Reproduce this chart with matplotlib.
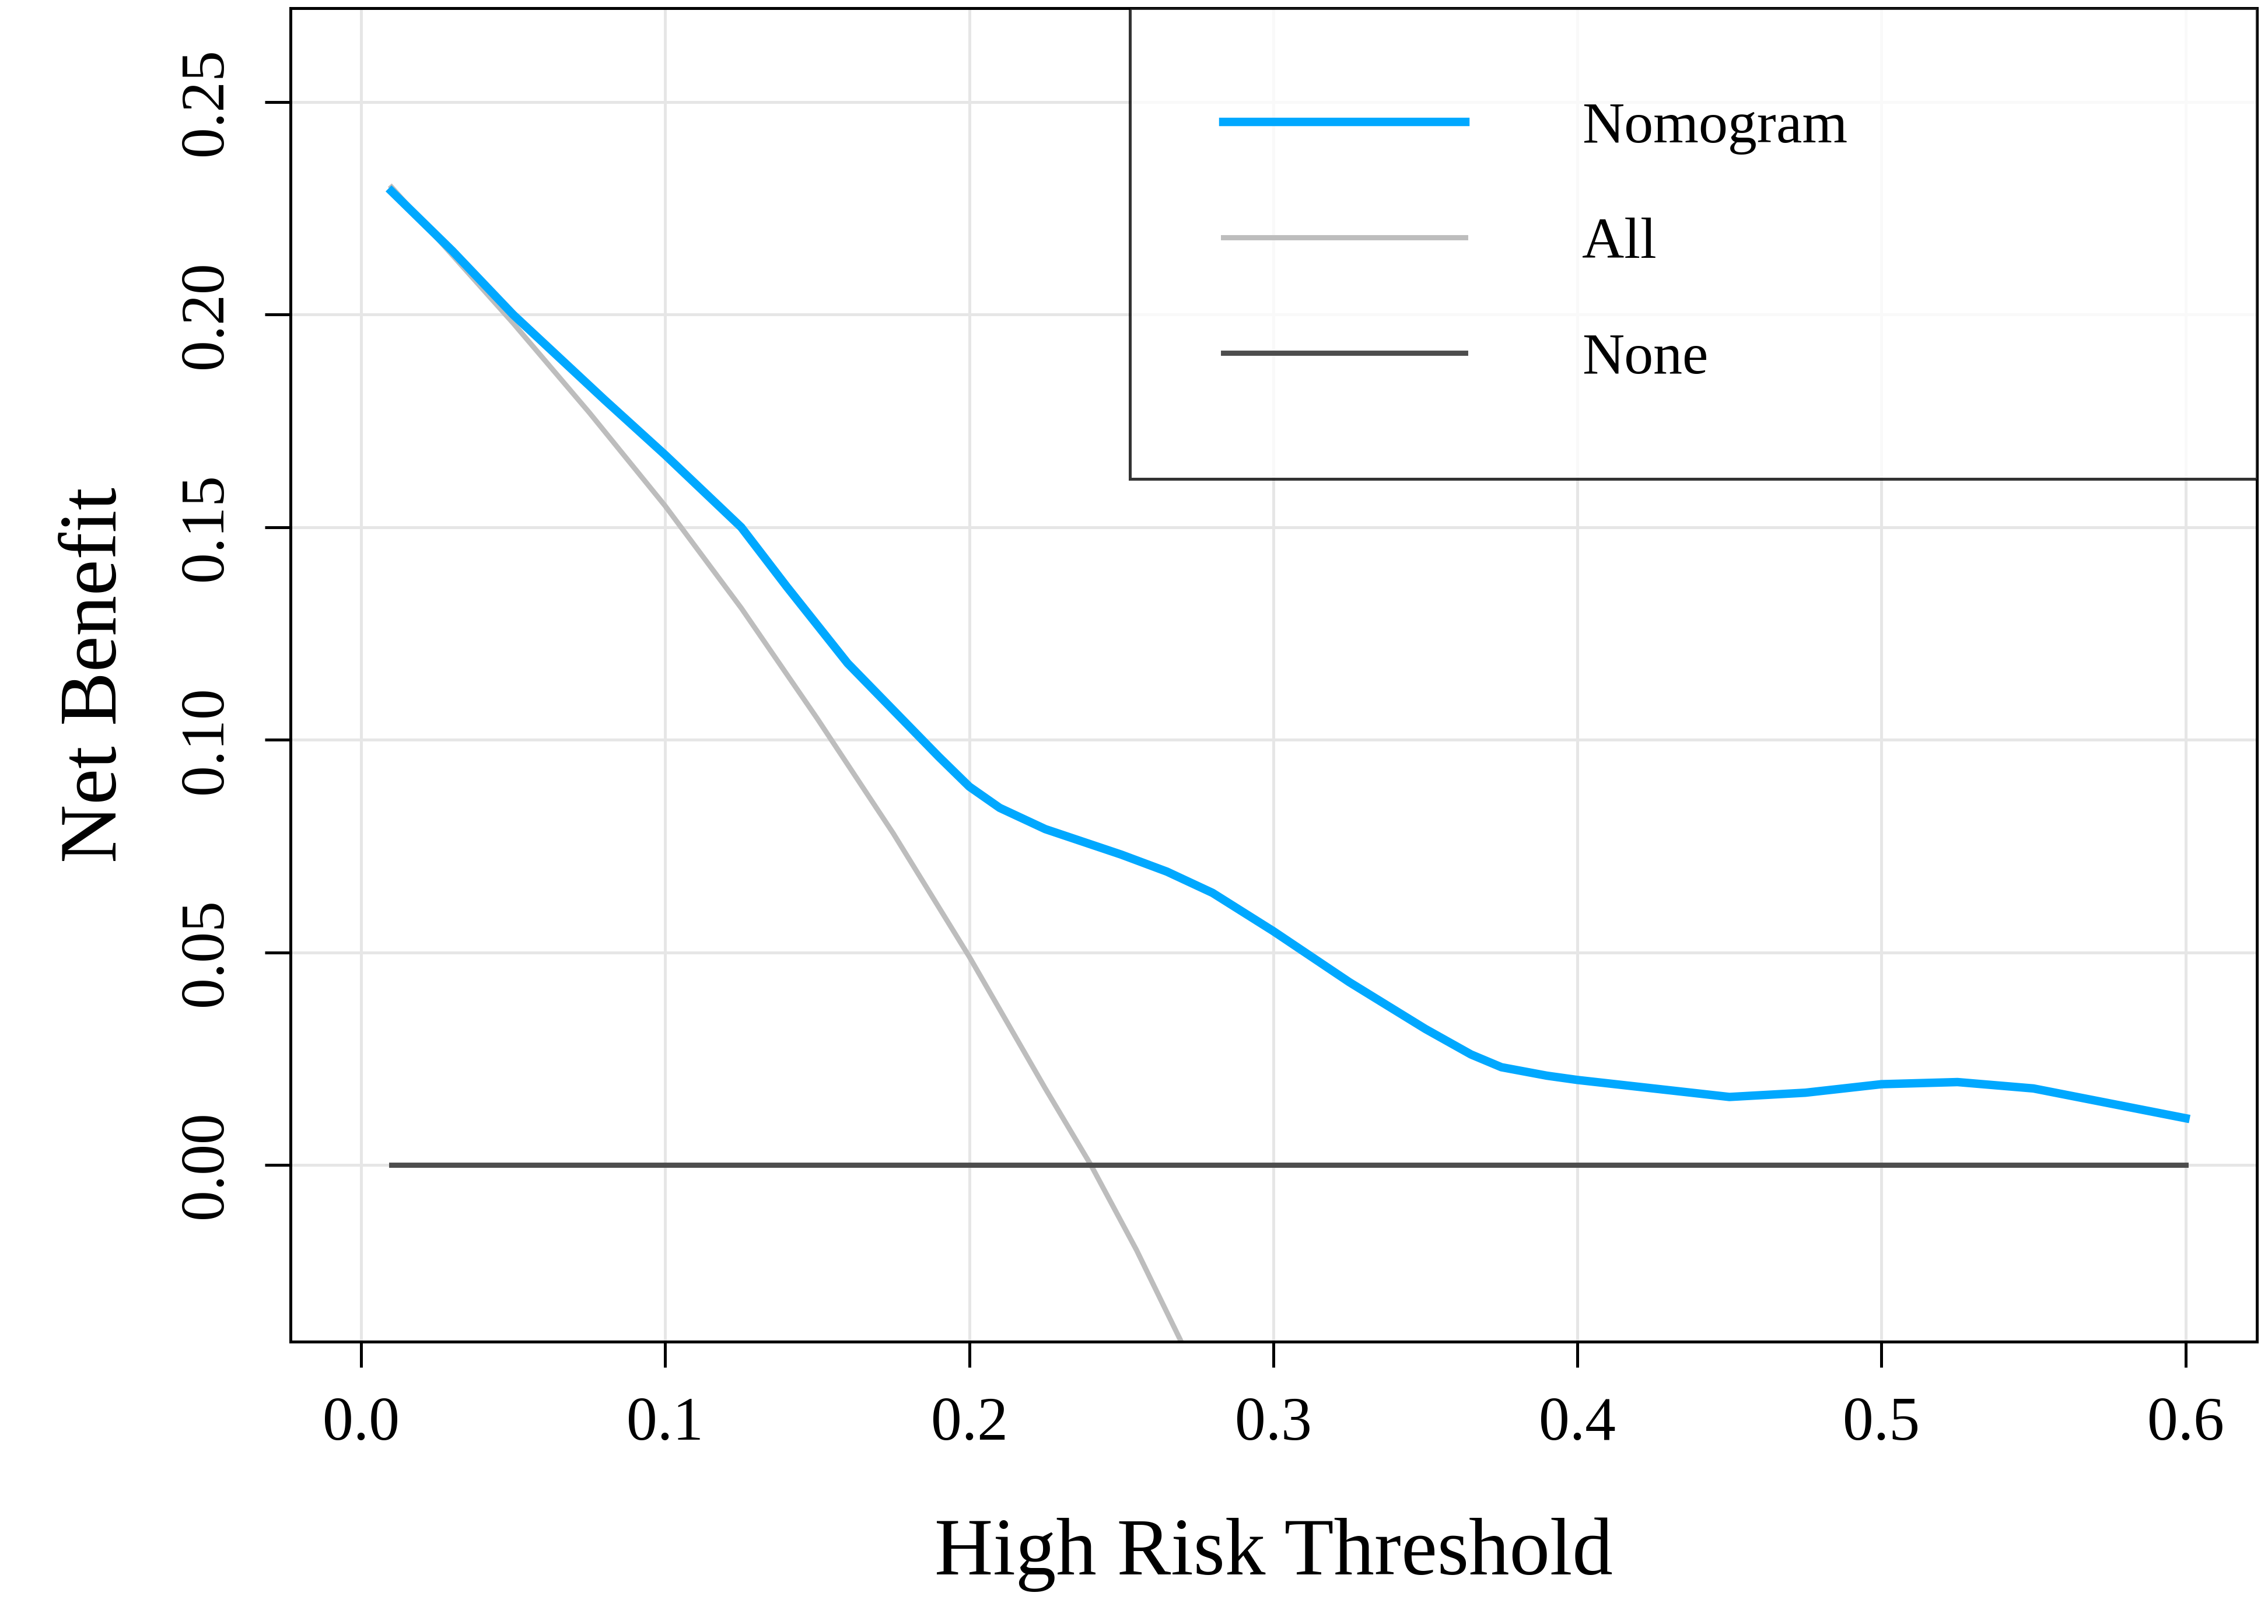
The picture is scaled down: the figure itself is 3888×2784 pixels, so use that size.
import matplotlib.pyplot as plt

plt.rcParams["font.family"] = ["Liberation Serif", "DejaVu Serif"]

thresh_nomo = [0.01, 0.03, 0.05, 0.065, 0.08, 0.10, 0.125, 0.14, 0.15, 0.16, 0.175, 0.19, 0.20,
               0.21, 0.225, 0.25, 0.265, 0.28, 0.30, 0.325, 0.35, 0.365, 0.375, 0.39, 0.40,
               0.425, 0.45, 0.475, 0.50, 0.525, 0.55, 0.575, 0.60]
nb_nomo = [0.229, 0.215, 0.200, 0.190, 0.180, 0.167, 0.150, 0.136, 0.127, 0.118, 0.107, 0.096,
           0.089, 0.084, 0.079, 0.073, 0.069, 0.064, 0.055, 0.043, 0.032, 0.026, 0.023, 0.021,
           0.020, 0.018, 0.016, 0.017, 0.019, 0.0195, 0.018, 0.0145, 0.011]
thresh_all = [0.01, 0.05, 0.075, 0.10, 0.125, 0.15, 0.175, 0.20, 0.225, 0.24, 0.255, 0.27]
nb_all = [0.230, 0.198, 0.177, 0.155, 0.131, 0.105, 0.078, 0.049, 0.018, 0.0, -0.020, -0.042]
thresh_none = [0.01, 0.60]
nb_none = [0.0, 0.0]

fig = plt.figure(figsize=(19.44, 13.92), dpi=200)
ax = fig.add_axes([0.128, 0.174, 0.867, 0.821])

ax.plot(thresh_nomo, nb_nomo, color="#00a8ff", lw=5.2, label="Nomogram", zorder=3,
        solid_joinstyle="round")
ax.plot(thresh_all, nb_all, color="#bdbdbd", lw=3.2, label="All", zorder=2)
ax.plot(thresh_none, nb_none, color="#4d4d4d", lw=3.2, label="None", zorder=2)

ax.set_xlim(-0.0233, 0.6234)
ax.set_ylim(-0.0415, 0.2721)
ax.set_xticks([0.0, 0.1, 0.2, 0.3, 0.4, 0.5, 0.6])
ax.set_xticklabels(["0.0", "0.1", "0.2", "0.3", "0.4", "0.5", "0.6"])
ax.set_yticks([0.0, 0.05, 0.10, 0.15, 0.20, 0.25])
ax.set_yticklabels(["0.00", "0.05", "0.10", "0.15", "0.20", "0.25"], rotation=90, va="center")
ax.grid(True, color="#e6e6e6", lw=1.8)
ax.set_axisbelow(True)
ax.tick_params(labelsize=38, length=16, width=1.8, direction="out", pad=18)
for s in ax.spines.values():
    s.set_linewidth(1.8)

ax.set_xlabel("High Risk Threshold", fontsize=50, labelpad=40)
ax.set_ylabel("Net Benefit", fontsize=50, labelpad=28)

leg = ax.legend(loc="upper left", bbox_to_anchor=(0.427, 1.0, 0.573, 0.0), mode="expand",
                fontsize=36, handlelength=4.15, handletextpad=2.0, labelspacing=1.07,
                borderpad=1.6, borderaxespad=0, fancybox=False, frameon=True)
leg.get_frame().set_edgecolor("black")
leg.get_frame().set_linewidth(1.8)

fig.savefig("out.png", dpi=200)
